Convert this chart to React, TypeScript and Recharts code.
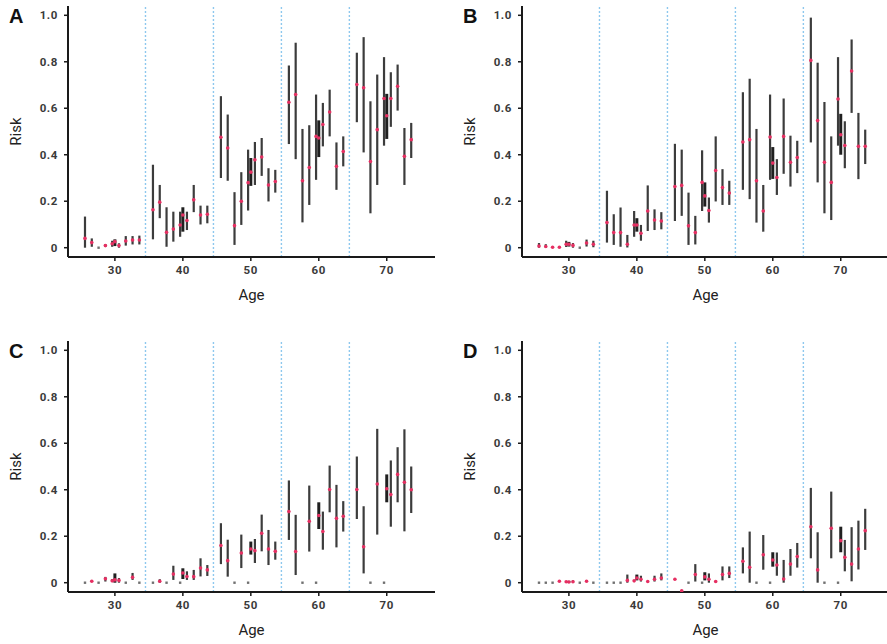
import React from "react";
import { ComposedChart, Scatter, ErrorBar, XAxis, YAxis, ReferenceLine } from "recharts";

// single-year ages (9 per decade) and the pooled decade estimates
const AGES = [
  25.6, 26.6, 27.6, 28.6, 29.6, 30.6, 31.6, 32.6, 33.6,
  35.6, 36.6, 37.6, 38.6, 39.6, 40.6, 41.6, 42.6, 43.6,
  45.6, 46.6, 47.6, 48.6, 49.6, 50.6, 51.6, 52.6, 53.6,
  55.6, 56.6, 57.6, 58.6, 59.6, 60.6, 61.6, 62.6, 63.6,
  65.6, 66.6, 67.6, 68.6, 69.6, 70.6, 71.6, 72.6, 73.6,
];
const POOLED_AGES = [30, 40, 50, 60, 70];
const DECADE_BREAKS = [34.5, 44.5, 54.5, 64.5];
const AGE_TICKS = [30, 40, 50, 60, 70];
const RISK_TICKS = [0, 0.2, 0.4, 0.6, 0.8, 1.0];

// null = no estimate (drawn as a grey dot on zero)
const A_EST = [
  0.04, 0.022, null, 0.009, 0.017, 0.009, 0.029, 0.033, 0.033,
  0.163, 0.196, 0.066, 0.08, 0.098, 0.117, 0.206, 0.141, 0.144,
  0.475, 0.429, 0.095, 0.2, 0.28, 0.378, 0.39, 0.27, 0.285,
  0.626, 0.659, 0.288, 0.345, 0.479, 0.53, 0.584, 0.35, 0.414,
  0.702, 0.688, 0.371, 0.508, 0.642, 0.642, 0.695, 0.393, 0.465,
];
const A_LO = [
  0, 0.004, null, 0.003, 0.004, 0, 0.009, 0.014, 0.014,
  0.036, 0.127, 0.004, 0.026, 0.047, 0.076, 0.153, 0.1, 0.105,
  0.3, 0.288, 0.012, 0.098, 0.16, 0.27, 0.309, 0.199, 0.237,
  0.446, 0.381, 0.109, 0.184, 0.292, 0.436, 0.479, 0.249, 0.35,
  0.54, 0.41, 0.148, 0.27, 0.439, 0.52, 0.59, 0.27, 0.386,
];
const A_HI = [
  0.134, 0.04, null, 0.015, 0.03, 0.019, 0.05, 0.05, 0.052,
  0.357, 0.27, 0.174, 0.155, 0.155, 0.155, 0.27, 0.181, 0.181,
  0.652, 0.573, 0.239, 0.325, 0.422, 0.455, 0.472, 0.342, 0.335,
  0.784, 0.882, 0.511, 0.527, 0.659, 0.623, 0.68, 0.453, 0.479,
  0.839, 0.906, 0.63, 0.745, 0.82, 0.755, 0.788, 0.515, 0.537,
];
const A_POOL_EST = [0.026, 0.141, 0.325, 0.472, 0.568];
const A_POOL_LO = [0.007, 0.069, 0.266, 0.39, 0.468];
const A_POOL_HI = [0.036, 0.174, 0.386, 0.548, 0.662];

const B_EST = [
  0.007, 0.005, 0.002, 0.002, 0.015, 0.01, null, 0.02, 0.015,
  0.108, 0.065, 0.065, 0.015, 0.098, 0.062, 0.158, 0.119, 0.115,
  0.263, 0.268, 0.094, 0.065, 0.281, 0.16, 0.332, 0.259, 0.235,
  0.455, 0.465, 0.288, 0.158, 0.476, 0.302, 0.479, 0.368, 0.388,
  0.806, 0.547, 0.368, 0.281, 0.64, 0.44, 0.76, 0.436, 0.436,
];
const B_LO = [
  0, 0, 0.002, 0.002, 0.003, 0, null, 0.005, 0.002,
  0.022, 0.012, 0.004, 0.001, 0.047, 0.03, 0.072, 0.076, 0.079,
  0.115, 0.137, 0.012, 0.014, 0.158, 0.108, 0.199, 0.184, 0.184,
  0.249, 0.209, 0.108, 0.069, 0.292, 0.227, 0.318, 0.263, 0.321,
  0.453, 0.281, 0.148, 0.119, 0.439, 0.342, 0.58, 0.295, 0.36,
];
const B_HI = [
  0.02, 0.015, 0.002, 0.002, 0.03, 0.02, null, 0.035, 0.03,
  0.245, 0.144, 0.173, 0.055, 0.158, 0.098, 0.268, 0.165, 0.153,
  0.447, 0.422, 0.237, 0.137, 0.419, 0.216, 0.479, 0.338, 0.288,
  0.669, 0.727, 0.511, 0.27, 0.659, 0.381, 0.642, 0.482, 0.46,
  0.99, 0.796, 0.627, 0.479, 0.82, 0.544, 0.896, 0.58, 0.508,
];
const B_POOL_EST = [0.015, 0.098, 0.223, 0.364, 0.486];
const B_POOL_LO = [0.005, 0.069, 0.177, 0.296, 0.4];
const B_POOL_HI = [0.025, 0.127, 0.281, 0.433, 0.576];

const C_EST = [
  null, 0.006, null, 0.017, 0.008, 0.01, null, 0.023, null,
  null, 0.006, null, 0.037, null, 0.027, 0.026, 0.063, 0.055,
  0.16, 0.095, null, 0.128, null, 0.138, 0.213, 0.145, 0.135,
  0.306, 0.134, null, 0.264, null, 0.22, 0.401, 0.277, 0.286,
  0.401, 0.155, null, 0.425, null, 0.379, 0.466, 0.432, 0.4,
];
const C_LO = [
  null, 0.003, null, 0.005, 0.003, 0, null, 0.012, null,
  null, 0, null, 0.012, null, 0.012, 0.012, 0.027, 0.029,
  0.08, 0.026, null, 0.063, null, 0.085, 0.135, 0.076, 0.099,
  0.184, 0.033, null, 0.134, null, 0.142, 0.303, 0.152, 0.22,
  0.274, 0.04, null, 0.207, null, 0.241, 0.346, 0.221, 0.3,
];
const C_HI = [
  null, 0.01, null, 0.025, 0.015, 0.02, null, 0.042, null,
  null, 0.015, null, 0.073, null, 0.049, 0.055, 0.105, 0.076,
  0.256, 0.185, null, 0.207, null, 0.188, 0.293, 0.227, 0.177,
  0.44, 0.292, null, 0.418, null, 0.306, 0.504, 0.421, 0.351,
  0.543, 0.329, null, 0.662, null, 0.526, 0.583, 0.66, 0.5,
];
const C_POOL_EST = [0.012, 0.042, 0.145, 0.289, 0.404];
const C_POOL_LO = [0, 0.016, 0.121, 0.231, 0.346];
const C_POOL_HI = [0.04, 0.062, 0.177, 0.346, 0.466];

const D_EST = [
  null, null, null, 0.006, 0.004, 0.004, null, 0.006, null,
  null, null, null, 0.01, 0.008, 0.015, 0.005, 0.015, 0.02,
  0.015, -0.035, null, 0.035, null, 0.015, 0.005, 0.035, 0.04,
  0.092, 0.066, null, 0.12, null, 0.076, 0.016, 0.08, 0.113,
  0.241, 0.055, null, 0.234, null, 0.109, 0.08, 0.145, 0.224,
];
const D_LO = [
  null, null, null, 0.006, 0.004, 0, null, 0.006, null,
  null, null, null, 0, 0.008, 0.005, 0.005, 0.005, 0.01,
  0.015, -0.035, null, 0.005, null, 0, 0.005, 0.01, 0.02,
  0.04, 0, null, 0.056, null, 0.03, 0, 0.03, 0.065,
  0.105, 0, null, 0.105, null, 0.049, 0.006, 0.057, 0.141,
];
const D_HI = [
  null, null, null, 0.006, 0.004, 0.01, null, 0.006, null,
  null, null, null, 0.035, 0.008, 0.03, 0.005, 0.03, 0.04,
  0.015, -0.035, null, 0.08, null, 0.04, 0.005, 0.07, 0.07,
  0.152, 0.22, null, 0.205, null, 0.13, 0.098, 0.145, 0.171,
  0.408, 0.217, null, 0.392, null, 0.184, 0.239, 0.267, 0.318,
];
const D_POOL_EST = [0.003, 0.02, 0.025, 0.098, 0.181];
const D_POOL_LO = [0, 0.01, 0.01, 0.069, 0.131];
const D_POOL_HI = [0.008, 0.035, 0.045, 0.131, 0.241];

type Num = number | null;

function toPoints(ages: number[], est: Num[], lo: Num[], hi: Num[]) {
  return ages
    .map((age, i) => ({ age, e: est[i], l: lo[i], h: hi[i] }))
    .filter((p) => p.e != null)
    .map((p) => ({
      age: p.age,
      risk: p.e as number,
      err: [(p.e as number) - (p.l as number), (p.h as number) - (p.e as number)],
    }));
}

function toEmpty(ages: number[], est: Num[]) {
  return ages.filter((_, i) => est[i] == null).map((age) => ({ age, risk: 0 }));
}

const FONT = "Roboto, 'Liberation Sans', Arial, sans-serif";
const RED = "#e62f62";
const BREAK_BLUE = "#8ec8ee";

const NoDot = () => <g />;
const RedDot = (p: any) => <circle cx={p.cx} cy={p.cy} r={1.8} fill={RED} />;
const GreyDot = (p: any) => (
  <rect x={p.cx - 1.2} y={p.cy - 1.2} width={2.4} height={2.4} fill="#707070" />
);

interface PanelProps {
  letter: string;
  left: number;
  top: number;
  est: Num[];
  lo: Num[];
  hi: Num[];
  poolEst: number[];
  poolLo: number[];
  poolHi: number[];
}

function Panel({ letter, left, top, est, lo, hi, poolEst, poolLo, poolHi }: PanelProps) {
  const points = toPoints(AGES, est, lo, hi);
  const pooled = toPoints(POOLED_AGES, poolEst, poolLo, poolHi);
  const empty = toEmpty(AGES, est);

  const yLabel = (props: any) => {
    const { x, y, height } = props.viewBox;
    const cx = x + 8;
    const cy = y + height / 2;
    return (
      <g>
        <text x={x + 1} y={22.5} fontSize={20} fontWeight={700} fill="#111" fontFamily="'Liberation Sans', Arial, sans-serif">
          {letter}
        </text>
        <text
          x={cx}
          y={cy}
          transform={`rotate(-90, ${cx}, ${cy})`}
          textAnchor="middle"
          dominantBaseline="central"
          fontSize={15}
          fill="#222"
          fontFamily={FONT}
        >
          Risk
        </text>
      </g>
    );
  };

  const xLabel = (props: any) => {
    const { x, y, width } = props.viewBox;
    return (
      <text x={x + width / 2} y={y + 43} textAnchor="middle" fontSize={15} fill="#222" fontFamily={FONT}>
        Age
      </text>
    );
  };

  const tickStyle = { fontSize: 11.5, fontWeight: 700, fill: "#3a3a3a", fontFamily: FONT, letterSpacing: 0.6 };

  return (
    <div style={{ position: "absolute", left, top }}>
      <ComposedChart width={445} height={318} margin={{ top: 6, right: 10, bottom: 0, left: 8 }}>
        <XAxis
          dataKey="age"
          type="number"
          domain={[23.1, 77.1]}
          allowDataOverflow
          ticks={AGE_TICKS}
          tickSize={4}
          tickMargin={5}
          height={61}
          axisLine={{ stroke: "#1a1a1a", strokeWidth: 2 }}
          tickLine={{ stroke: "#1a1a1a", strokeWidth: 1.5 }}
          tick={tickStyle}
          label={{ content: xLabel }}
        />
        <YAxis
          dataKey="risk"
          type="number"
          domain={[-0.04, 1.04]}
          allowDataOverflow
          ticks={RISK_TICKS}
          tickFormatter={(v: number) => (v === 0 ? "0" : v.toFixed(1))}
          tickSize={4}
          tickMargin={6}
          width={60}
          axisLine={{ stroke: "#1a1a1a", strokeWidth: 2 }}
          tickLine={{ stroke: "#1a1a1a", strokeWidth: 1.5 }}
          tick={tickStyle}
          label={{ content: yLabel }}
        />
        {DECADE_BREAKS.map((b) => (
          <ReferenceLine key={b} x={b} stroke={BREAK_BLUE} strokeWidth={1.4} strokeDasharray="2 2" />
        ))}
        <Scatter data={empty} dataKey="risk" shape={GreyDot} isAnimationActive={false} />
        <Scatter data={points} dataKey="risk" shape={NoDot} isAnimationActive={false}>
          <ErrorBar dataKey="err" direction="y" width={0} stroke="#3c3c3c" strokeWidth={2.2} isAnimationActive={false} />
        </Scatter>
        <Scatter data={pooled} dataKey="risk" shape={NoDot} isAnimationActive={false}>
          <ErrorBar dataKey="err" direction="y" width={0} stroke="#202020" strokeWidth={3} isAnimationActive={false} />
        </Scatter>
        <Scatter data={points} dataKey="risk" shape={RedDot} isAnimationActive={false} />
        <Scatter data={pooled} dataKey="risk" shape={RedDot} isAnimationActive={false} />
      </ComposedChart>
    </div>
  );
}

export default function App() {
  return (
    <div
      style={{
        position: "absolute",
        left: 0,
        top: 0,
        width: 887,
        height: 644,
        overflow: "hidden",
        background: "#fff",
      }}
    >
      <Panel letter="A" left={0} top={0} est={A_EST} lo={A_LO} hi={A_HI} poolEst={A_POOL_EST} poolLo={A_POOL_LO} poolHi={A_POOL_HI} />
      <Panel letter="B" left={454} top={0} est={B_EST} lo={B_LO} hi={B_HI} poolEst={B_POOL_EST} poolLo={B_POOL_LO} poolHi={B_POOL_HI} />
      <Panel letter="C" left={0} top={335} est={C_EST} lo={C_LO} hi={C_HI} poolEst={C_POOL_EST} poolLo={C_POOL_LO} poolHi={C_POOL_HI} />
      <Panel letter="D" left={454} top={335} est={D_EST} lo={D_LO} hi={D_HI} poolEst={D_POOL_EST} poolLo={D_POOL_LO} poolHi={D_POOL_HI} />
    </div>
  );
}
